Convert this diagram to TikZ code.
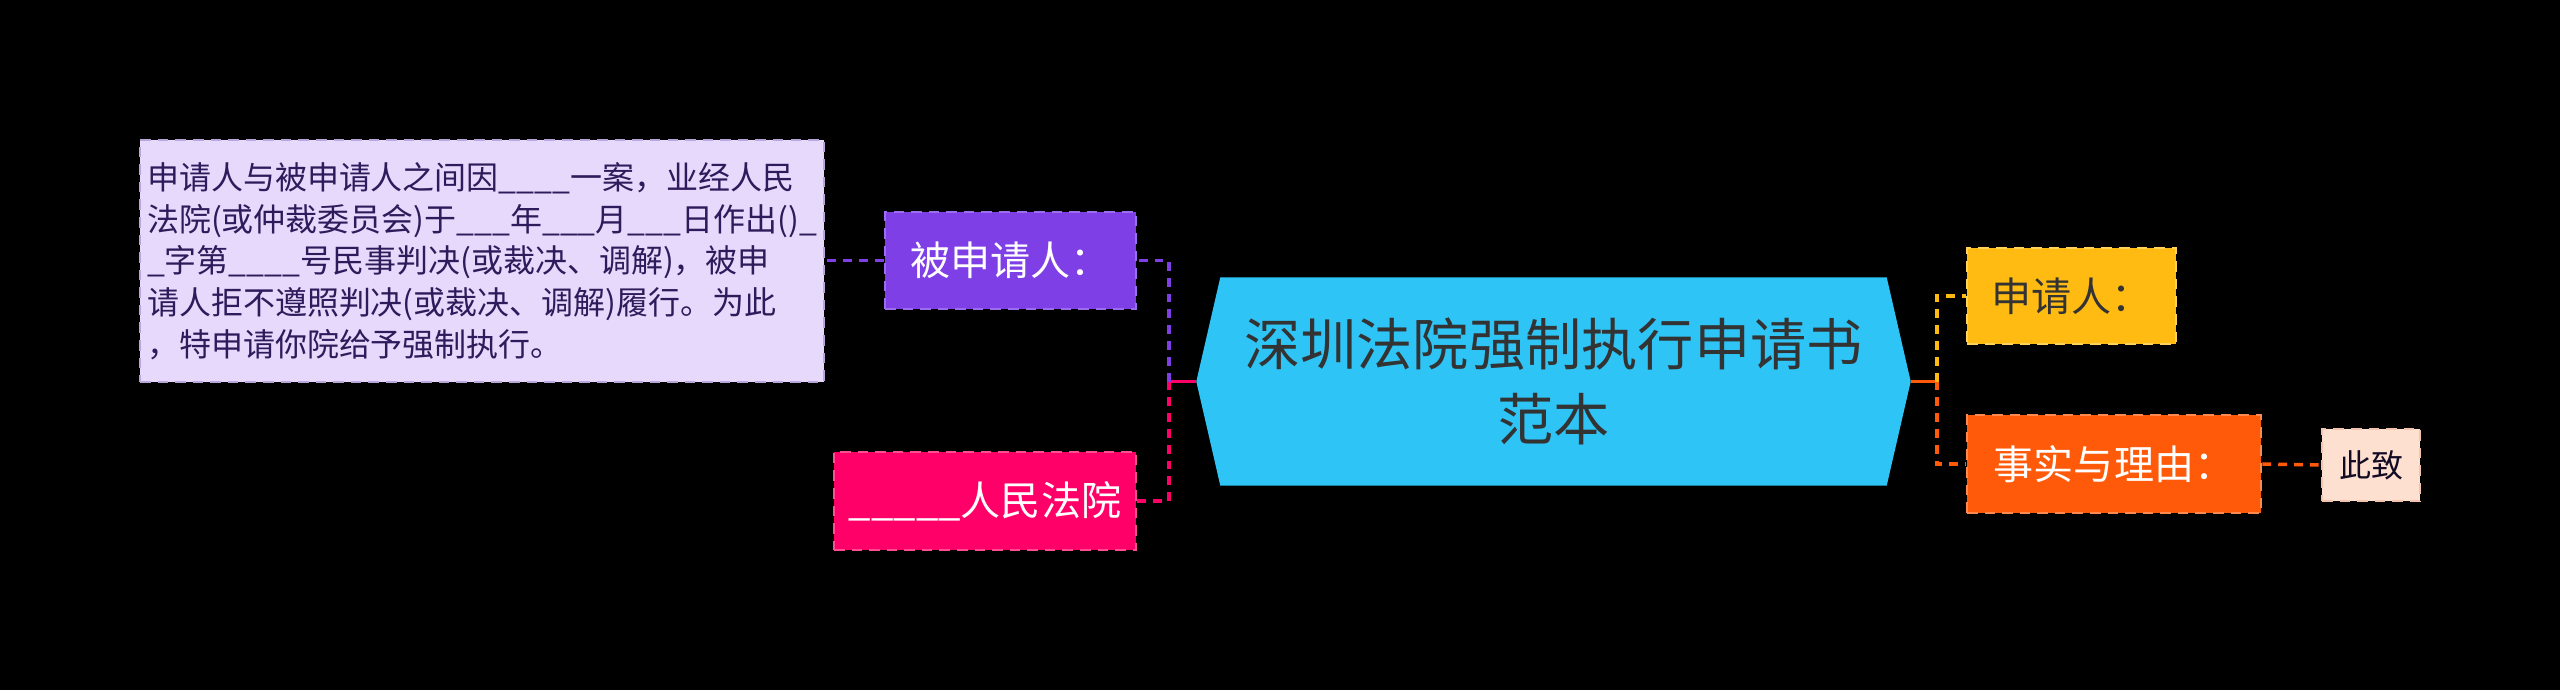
\documentclass[tikz,border=0pt]{standalone}
\usepackage{fontspec}
\setmainfont{Noto Sans CJK SC}
\usetikzlibrary{backgrounds}

\definecolor{lavfill}{HTML}{E6D9FB}
\definecolor{lavline}{HTML}{B8A6DA}
\definecolor{lavtext}{HTML}{2E1B5B}
\definecolor{purplec}{HTML}{7E3FE6}
\definecolor{purpleln}{HTML}{9C6CEE}
\definecolor{pinkc}{HTML}{FF0068}
\definecolor{pinkln}{HTML}{FF4C92}
\definecolor{cyanc}{HTML}{2EC5F6}
\definecolor{yellowc}{HTML}{FFBB12}
\definecolor{yellowln}{HTML}{FFD35E}
\definecolor{orangec}{HTML}{FF5A09}
\definecolor{orangeln}{HTML}{FF8A50}
\definecolor{peachc}{HTML}{FEE0D1}
\definecolor{peachln}{HTML}{F2C4AE}
\definecolor{darktext}{HTML}{333333}

\begin{document}
\begin{tikzpicture}[
    box/.style = {rectangle, draw, dash pattern = on 3pt off 2pt, line width = 0.8pt, inner sep = 0pt},
    link/.style = {line width = 1pt, dash pattern = on 2.5pt off 2pt},
    stub/.style = {line width = 1pt},
    big/.style = {font = \fontsize{11.4pt}{13pt}\selectfont}
  ]
        \begin{scope}[on background layer]
          \fill[black] (0, 0) rectangle (25.6, -6.9);
        \end{scope}

        \node[text = darktext, align = center, minimum width = 7.13cm, minimum height = 2.07cm,
              font = \fontsize{16pt}{21.3pt}\selectfont] (title) at (15.535, -3.815) {深圳法院强制执行申请书\\范本};
        \begin{scope}[on background layer]
          \fill[cyanc] ([xshift = 0.24cm]title.north west) -- ([xshift = -0.24cm]title.north east) -- (title.east)
            -- ([xshift = -0.24cm]title.south east) -- ([xshift = 0.24cm]title.south west) -- (title.west) -- cycle;
        \end{scope}

        \node[box, big, fill = purplec, draw = purpleln, text = white, minimum width = 2.51cm, minimum height = 0.97cm] (bsq) at (10.105, -2.605) {被申请人：};
        \node[box, big, fill = pinkc, draw = pinkln, text = white, minimum width = 3.02cm, minimum height = 0.98cm] (court) at (9.85, -5.01) {\_\_\_\_\_人民法院};
        \node[box, fill = lavfill, draw = lavline, text = lavtext, align = left, minimum width = 6.84cm, minimum height = 2.42cm,
              font = \fontsize{9.1pt}{11.85pt}\selectfont] (desc) at (4.82, -2.61)
              {申请人与被申请人之间因\_\_\_\_一案，业经人民\\
               法院(或仲裁委员会)于\_\_\_年\_\_\_月\_\_\_日作出()\_\\
               \_字第\_\_\_\_号民事判决(或裁决、调解)，被申\\
               请人拒不遵照判决(或裁决、调解)履行。为此\\
               ，特申请你院给予强制执行。};

        \node[box, big, fill = yellowc, draw = yellowln, text = darktext, minimum width = 2.09cm, minimum height = 0.96cm] (sq) at (20.715, -2.96) {申请人：};
        \node[box, big, fill = orangec, draw = orangeln, text = white, minimum width = 2.94cm, minimum height = 0.98cm] (facts) at (21.14, -4.64) {事实与理由：};
        \node[box, fill = peachc, draw = peachln, text = lavtext!40!black, minimum width = 0.98cm, minimum height = 0.72cm,
              font = \fontsize{9.1pt}{11pt}\selectfont] (cizhi) at (23.71, -4.65) {此致};

        \coordinate (lj) at (11.69, -3.815);
        \coordinate (rj) at (19.37, -3.815);

        \draw[stub, pinkc] (title.west) -- (lj);
        \draw[link, purplec] (lj) |- (bsq.east);
        \draw[link, pinkc] (lj) |- (court.east);
        \draw[link, purplec] (bsq.west) -- (bsq.west -| desc.east);

        \draw[stub, orangec] (title.east) -- (rj);
        \draw[link, yellowc] (rj) |- (sq.west);
        \draw[link, orangec] (rj) |- (facts.west);
        \draw[link, orangec] (facts.east) -- (cizhi.west);
      \end{tikzpicture}
\end{document}
